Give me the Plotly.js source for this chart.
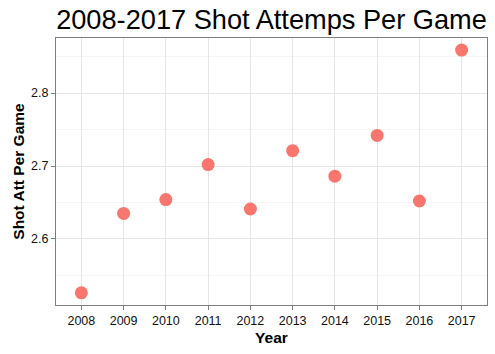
<!DOCTYPE html>
<html>
<head>
<meta charset="utf-8">
<script src="https://cdn.plot.ly/plotly-3.0.1.min.js"></script>
<style>html,body{margin:0;padding:0;background:#fff}#chart{width:495px;height:354px}</style>
</head>
<body>
<div id="chart"></div>
<script>
const years = [2008, 2009, 2010, 2011, 2012, 2013, 2014, 2015, 2016, 2017];
const shotAttPerGame = [2.526, 2.635, 2.654, 2.702, 2.641, 2.721, 2.686, 2.742, 2.652, 2.859];
const yTicks = [2.6, 2.7, 2.8];

const font = 'Liberation Sans, Arial, sans-serif';
const trace = {
  x: years, y: shotAttPerGame, type: 'scatter', mode: 'markers',
  marker: {color: '#F8766D', size: 13, line: {width: 0}},
  hoverinfo: 'x+y'
};
const layout = {
  width: 495, height: 354,
  margin: {l: 55.5, r: 7.7, t: 38.3, b: 49.3},
  paper_bgcolor: '#fff', plot_bgcolor: '#fff',
  showlegend: false,
  font: {family: font, color: '#000'},
  title: {text: '2008-2017 Shot Attemps Per Game', x: 0.5, xref: 'paper', xanchor: 'center', y: 0.945, yanchor: 'middle',
          font: {family: font, size: 27.2, color: '#000'}},
  xaxis: {
    range: [2007.4, 2017.6], tickvals: years, ticktext: years.map(String),
    showgrid: true, gridcolor: '#e6e6e6', gridwidth: 1, zeroline: false,
    showline: true, linecolor: '#7f7f7f', linewidth: 1, mirror: true,
    ticks: 'outside', ticklen: 4, tickcolor: '#7f7f7f', tickwidth: 1,
    tickfont: {size: 12.5, color: '#111'},
    title: {text: '<b>Year</b>', font: {size: 15.5, color: '#000'}, standoff: 5}
  },
  yaxis: {
    range: [2.5093, 2.8756], tickvals: yTicks, ticktext: yTicks.map(v => v.toFixed(1)),
    showgrid: true, gridcolor: '#e6e6e6', gridwidth: 1, zeroline: false,
    minor: {tickvals: [2.55, 2.65, 2.75, 2.85], showgrid: true, gridcolor: '#f5f5f5', ticks: ''},
    showline: true, linecolor: '#7f7f7f', linewidth: 1, mirror: true,
    ticks: 'outside', ticklen: 4, tickcolor: '#7f7f7f', tickwidth: 1,
    tickfont: {size: 12.5, color: '#111'},
    title: {text: '<b>Shot Att Per Game</b>', font: {size: 15.5, color: '#000'}, standoff: 2}
  }
};
Plotly.newPlot('chart', [trace], layout, {displayModeBar: false, staticPlot: true});
</script>
</body>
</html>
